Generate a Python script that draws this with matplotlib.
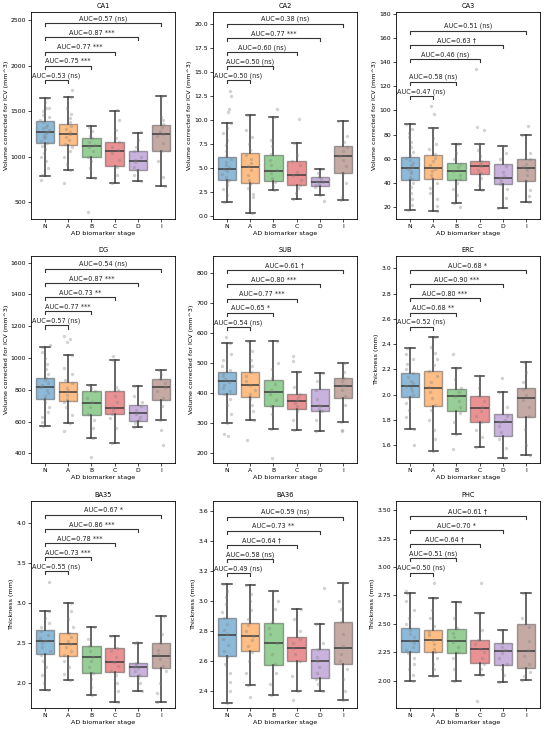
import numpy as np
import matplotlib
matplotlib.use("Agg")
import matplotlib.pyplot as plt

# groups on the x axis
stages = ["N", "A", "B", "C", "D", "I"]
colors = ["#1f77b4", "#ff7f0e", "#2ca02c", "#d62728", "#9467bd", "#8c564b"]

vol_label = "Volume corrected for ICV (mm^3)"
thick_label = "Thickness (mm)"

# box summaries per stage: [whisker low, q1, median, q3, whisker high]
stats_ca1 = [[783, 1151, 1265, 1389, 1647], [853, 1132, 1250, 1361, 1654], [765, 1000, 1121, 1202, 1331],
             [710, 897, 1063, 1165, 1504], [735, 853, 956, 1066, 1261], [672, 1058, 1250, 1342, 1662]]
stats_ca2 = [[1.46, 3.79, 4.97, 6.2, 9.77], [0.38, 3.44, 5.18, 6.6, 10.57], [2.75, 3.65, 4.77, 6.43, 10.33],
             [1.8, 3.3, 4.35, 5.8, 7.65], [2.23, 3.16, 3.62, 4.14, 4.94], [1.74, 4.52, 6.26, 7.37, 9.91]]
stats_ca3 = [[18, 42.9, 52.6, 61.7, 89], [17, 43.6, 52.3, 63.4, 85.7], [23.6, 42.3, 50, 56.2, 72.3],
             [34.5, 47.8, 53.7, 58.4, 72], [19.2, 39.5, 44.2, 55.4, 70.8], [24.7, 42, 52.6, 60, 79.6]]
stats_dg = [[569, 740, 818, 873, 1067], [588, 728, 787, 850, 1020], [498, 643, 718, 790, 833],
            [467, 646, 686, 793, 987], [566, 604, 655, 706, 825], [610, 738, 816, 866, 926]]
stats_sub = [[301, 396, 441, 470, 566], [310, 385, 427, 468, 574], [280, 358, 404, 442, 572],
             [278, 345, 373, 397, 468], [272, 340, 357, 412, 467], [303, 384, 424, 450, 500]]
stats_erc = [[1.73, 1.979, 2.066, 2.17, 2.37], [1.55, 1.91, 2.055, 2.19, 2.455], [1.685, 1.87, 1.985, 2.04, 2.21],
             [1.585, 1.785, 1.89, 1.99, 2.15], [1.5, 1.675, 1.785, 1.845, 2.02], [1.52, 1.825, 1.975, 2.055, 2.26]]
stats_ba35 = [[1.91, 2.36, 2.53, 2.67, 2.905], [2.04, 2.34, 2.49, 2.63, 3.01], [1.855, 2.13, 2.33, 2.47, 2.7],
              [1.77, 2.135, 2.265, 2.44, 2.59], [1.9, 2.09, 2.2, 2.25, 2.5], [1.76, 2.19, 2.34, 2.5, 2.84]]
stats_ba36 = [[2.32, 2.634, 2.774, 2.89, 3.117], [2.44, 2.67, 2.77, 2.857, 3.11], [2.375, 2.577, 2.72, 2.855, 3.065],
              [2.4, 2.6, 2.69, 2.76, 2.95], [2.4, 2.49, 2.6, 2.685, 2.85], [2.345, 2.58, 2.69, 2.86, 3.12]]
stats_phc = [[1.995, 2.255, 2.35, 2.46, 2.77], [2.045, 2.255, 2.36, 2.445, 2.73], [2.0, 2.24, 2.345, 2.455, 2.69],
             [2.05, 2.155, 2.28, 2.355, 2.595], [1.99, 2.135, 2.26, 2.33, 2.445], [2.01, 2.11, 2.265, 2.495, 2.77]]

# individual subjects (read approximately off the strip points)
pts_ca1 = [[740, 800, 870, 950, 1000, 1040, 1080, 1120, 1150, 1170, 1200, 1220, 1240, 1260, 1270, 1290, 1310,
            1330, 1350, 1380, 1400, 1430, 1460, 1500, 1530, 1540, 1600, 1650],
           [710, 855, 920, 1000, 1060, 1100, 1140, 1180, 1220, 1250, 1270, 1300, 1340, 1380, 1420, 1470, 1530, 1660, 1730],
           [390, 765, 870, 950, 1000, 1060, 1100, 1130, 1160, 1200, 1230, 1280, 1330],
           [710, 800, 880, 900, 960, 1040, 1070, 1100, 1160, 1200, 1290, 1400, 1510],
           [735, 800, 850, 880, 940, 960, 1000, 1060, 1100, 1180, 1265],
           [672, 780, 950, 1060, 1150, 1230, 1250, 1280, 1330, 1360, 1400, 1440, 1662]]
pts_ca2 = [[1.46, 2.2, 2.8, 3.3, 3.6, 3.8, 4.1, 4.4, 4.7, 4.9, 5.1, 5.4, 5.7, 6.0, 6.3, 6.8, 7.4, 8.0, 8.7, 9.2,
            9.77, 10.9, 11.2, 12.5, 13.1],
           [0.38, 2.0, 2.3, 2.9, 3.4, 3.8, 4.3, 4.8, 5.2, 5.6, 6.0, 6.4, 6.9, 7.5, 8.3, 9.0, 10.57],
           [2.75, 3.2, 3.6, 4.0, 4.5, 4.8, 5.3, 5.9, 6.5, 7.3, 8.0, 10.33, 11.2],
           [1.8, 2.4, 3.0, 3.3, 3.8, 4.3, 4.6, 5.3, 5.8, 6.4, 7.65, 10.1],
           [1.6, 2.23, 3.1, 3.3, 3.5, 3.6, 3.7, 3.9, 4.1, 4.5, 4.94],
           [1.74, 2.0, 3.5, 4.5, 5.2, 5.9, 6.3, 6.8, 7.2, 7.7, 8.4, 9.91]]
pts_ca3 = [[18, 22, 27, 32, 37, 40, 43, 45, 48, 50, 52, 53, 55, 57, 59, 61, 63, 66, 70, 74, 78, 81, 85, 89],
           [17, 21, 27, 32, 36, 40, 44, 47, 50, 52, 55, 58, 61, 64, 68, 72, 77, 85.7, 97, 103.5],
           [20, 23.6, 30, 35, 40, 43, 47, 50, 53, 56, 60, 65, 72.3],
           [34.5, 38, 44, 48, 51, 54, 56, 58, 62, 67, 72, 84, 86, 134],
           [19.2, 28, 35, 39, 42, 44, 46, 49, 54, 60, 65, 70.8],
           [24.7, 29, 34, 42, 47, 51, 53, 56, 60, 65, 79.6, 87]]
pts_dg = [[569, 600, 630, 660, 690, 720, 740, 760, 780, 800, 815, 830, 845, 860, 875, 900, 930, 960, 1000, 1040, 1067, 1080],
          [540, 588, 640, 690, 720, 740, 770, 790, 810, 840, 860, 900, 940, 1020, 1100, 1120, 1140],
          [378, 498, 560, 610, 650, 690, 720, 750, 790, 810, 833],
          [467, 560, 620, 650, 670, 690, 720, 760, 800, 820, 987, 1015],
          [566, 590, 610, 630, 650, 670, 700, 720, 760, 825],
          [455, 545, 610, 700, 750, 790, 820, 840, 870, 900, 926]]
pts_sub = [[258, 265, 301, 330, 360, 380, 395, 405, 415, 425, 435, 445, 455, 465, 475, 490, 510, 530, 566, 585],
           [245, 310, 340, 360, 380, 395, 410, 425, 440, 455, 470, 490, 510, 540, 574],
           [185, 280, 330, 355, 375, 395, 410, 430, 450, 480, 500, 572],
           [278, 310, 340, 355, 365, 375, 385, 395, 420, 468, 505, 523],
           [272, 310, 340, 345, 355, 360, 380, 410, 440, 467],
           [272, 277, 303, 360, 390, 410, 425, 440, 450, 470, 500]]
pts_erc = [[1.6, 1.73, 1.82, 1.88, 1.93, 1.97, 2.0, 2.03, 2.05, 2.07, 2.09, 2.11, 2.14, 2.17, 2.2, 2.24, 2.28, 2.32, 2.37],
           [1.55, 1.65, 1.72, 1.8, 1.88, 1.92, 1.97, 2.02, 2.06, 2.1, 2.15, 2.19, 2.23, 2.28, 2.33, 2.38, 2.455],
           [1.57, 1.685, 1.78, 1.85, 1.9, 1.95, 1.99, 2.02, 2.05, 2.12, 2.21, 2.32],
           [1.585, 1.66, 1.72, 1.78, 1.83, 1.87, 1.9, 1.95, 1.99, 2.05, 2.15],
           [1.5, 1.58, 1.65, 1.7, 1.75, 1.78, 1.8, 1.83, 1.9, 2.02, 2.13],
           [1.52, 1.6, 1.73, 1.83, 1.9, 1.96, 2.0, 2.04, 2.1, 2.18, 2.26]]
pts_ba35 = [[1.91, 2.0, 2.1, 2.2, 2.28, 2.35, 2.4, 2.45, 2.5, 2.53, 2.57, 2.6, 2.65, 2.7, 2.75, 2.82, 2.905, 3.27],
            [2.04, 2.12, 2.2, 2.28, 2.35, 2.4, 2.45, 2.49, 2.53, 2.58, 2.63, 2.7, 2.8, 2.9, 3.01],
            [1.855, 1.95, 2.05, 2.13, 2.2, 2.28, 2.33, 2.4, 2.47, 2.55, 2.7],
            [1.77, 1.9, 2.0, 2.1, 2.15, 2.22, 2.27, 2.33, 2.4, 2.44, 2.59],
            [1.9, 2.0, 2.07, 2.1, 2.15, 2.19, 2.2, 2.23, 2.25, 2.5, 2.52],
            [1.76, 1.88, 2.0, 2.15, 2.22, 2.3, 2.36, 2.42, 2.5, 2.62, 2.84]]
pts_ba36 = [[2.32, 2.4, 2.46, 2.52, 2.58, 2.63, 2.67, 2.71, 2.75, 2.78, 2.81, 2.85, 2.89, 2.93, 2.98, 3.03, 3.07, 3.117],
            [2.36, 2.44, 2.52, 2.6, 2.66, 2.7, 2.74, 2.77, 2.8, 2.84, 2.88, 2.94, 3.0, 3.05, 3.11],
            [2.375, 2.45, 2.52, 2.58, 2.65, 2.72, 2.78, 2.82, 2.86, 2.95, 3.0, 3.065],
            [2.34, 2.4, 2.5, 2.6, 2.65, 2.69, 2.72, 2.75, 2.8, 2.88, 2.95],
            [2.4, 2.45, 2.48, 2.52, 2.56, 2.6, 2.63, 2.68, 2.72, 2.85, 3.085],
            [2.345, 2.4, 2.48, 2.55, 2.6, 2.65, 2.7, 2.78, 2.86, 2.95, 3.0, 3.12]]
pts_phc = [[1.995, 2.05, 2.1, 2.15, 2.2, 2.24, 2.27, 2.3, 2.33, 2.35, 2.38, 2.41, 2.45, 2.5, 2.55, 2.62, 2.7, 2.77, 2.79],
           [2.045, 2.1, 2.15, 2.2, 2.25, 2.28, 2.32, 2.36, 2.4, 2.43, 2.48, 2.55, 2.62, 2.73, 2.86],
           [2.0, 2.1, 2.2, 2.25, 2.3, 2.34, 2.38, 2.42, 2.46, 2.55, 2.69],
           [1.82, 2.05, 2.1, 2.15, 2.2, 2.25, 2.28, 2.32, 2.36, 2.45, 2.595, 2.86],
           [1.99, 2.05, 2.1, 2.15, 2.2, 2.24, 2.27, 2.3, 2.33, 2.445],
           [2.01, 2.04, 2.08, 2.15, 2.22, 2.27, 2.35, 2.47, 2.55, 2.77]]

# AUC of N vs A, B, C, D, I
auc_ca1 = ["0.53 (ns)", "0.75 ***", "0.77 ***", "0.87 ***", "0.57 (ns)"]
auc_ca2 = ["0.50 (ns)", "0.50 (ns)", "0.60 (ns)", "0.77 ***", "0.38 (ns)"]
auc_ca3 = ["0.47 (ns)", "0.58 (ns)", "0.46 (ns)", "0.63 \u2020", "0.51 (ns)"]
auc_dg = ["0.57 (ns)", "0.77 ***", "0.73 **", "0.87 ***", "0.54 (ns)"]
auc_sub = ["0.54 (ns)", "0.65 *", "0.77 ***", "0.80 ***", "0.61 \u2020"]
auc_erc = ["0.52 (ns)", "0.68 **", "0.80 ***", "0.90 ***", "0.68 *"]
auc_ba35 = ["0.55 (ns)", "0.73 ***", "0.78 ***", "0.86 ***", "0.67 *"]
auc_ba36 = ["0.49 (ns)", "0.58 (ns)", "0.64 \u2020", "0.73 **", "0.59 (ns)"]
auc_phc = ["0.50 (ns)", "0.51 (ns)", "0.64 \u2020", "0.70 *", "0.61 \u2020"]

# y axis range of each panel
ylim_ca1 = (312, 2592)
ylim_ca2 = (-0.28, 21.3)
ylim_ca3 = (10.3, 181.4)
ylim_dg = (339, 1642)
ylim_sub = (167, 855)
ylim_erc = (1.458, 3.097)
ylim_ba35 = (1.69, 4.28)
ylim_ba36 = (2.29, 3.666)
ylim_phc = (1.76, 3.58)

panels = [
    ("CA1", stats_ca1, pts_ca1, auc_ca1, ylim_ca1, vol_label),
    ("CA2", stats_ca2, pts_ca2, auc_ca2, ylim_ca2, vol_label),
    ("CA3", stats_ca3, pts_ca3, auc_ca3, ylim_ca3, vol_label),
    ("DG", stats_dg, pts_dg, auc_dg, ylim_dg, vol_label),
    ("SUB", stats_sub, pts_sub, auc_sub, ylim_sub, vol_label),
    ("ERC", stats_erc, pts_erc, auc_erc, ylim_erc, thick_label),
    ("BA35", stats_ba35, pts_ba35, auc_ba35, ylim_ba35, thick_label),
    ("BA36", stats_ba36, pts_ba36, auc_ba36, ylim_ba36, thick_label),
    ("PHC", stats_phc, pts_phc, auc_phc, ylim_phc, thick_label),
]

W, H = 546, 730
fig = plt.figure(figsize=(W / 100, H / 100), dpi=100)

col_left = [31, 213, 396]
col_w = 144
row_top = [12, 256, 501]
row_h = 207

rng = np.random.default_rng(3)  # only for horizontal jitter of the dots
dark = "#3d3d3d"

for k, (name, stats, pts, aucs, ylim, ylabel) in enumerate(panels):
    r, c = divmod(k, 3)
    ax = fig.add_axes([col_left[c] / W, 1 - (row_top[r] + row_h) / H, col_w / W, row_h / H])

    bxp_stats = []
    for lab, s in zip(stages, stats):
        bxp_stats.append({"label": lab, "whislo": s[0], "q1": s[1], "med": s[2], "q3": s[3], "whishi": s[4]})
    pos = np.arange(len(stages))
    bp = ax.bxp(bxp_stats, positions=pos, widths=0.8, patch_artist=True, showfliers=False,
                boxprops=dict(linewidth=1.0), whiskerprops=dict(color=dark, linewidth=1.1),
                capprops=dict(color=dark, linewidth=1.1), medianprops=dict(color=dark, linewidth=1.1),
                capwidths=0.4)
    for patch, col in zip(bp["boxes"], colors):
        rgb = matplotlib.colors.to_rgb(col)
        patch.set_facecolor(rgb + (0.5,))
        patch.set_edgecolor((0.25, 0.25, 0.25, 0.45))

    # strip of subjects
    for i, vals in enumerate(pts):
        jit = rng.uniform(-0.2, 0.2, len(vals))
        ax.scatter(pos[i] + jit, vals, s=6, color="gray", alpha=0.35, linewidths=0, zorder=4)

    ax.set_ylim(*ylim)
    ax.set_xlim(-0.6, 5.6)
    span = ylim[1] - ylim[0]
    pad, step, tick = 0.05 * span, 0.0685 * span, 0.015 * span

    # brackets N vs each stage
    level = None
    for j, txt in enumerate(aucs, start=1):
        top = max(max(max(p) for p in pts[:j + 1]), max(s[4] for s in stats[:j + 1]))
        y = top + pad
        if level is not None:
            y = max(y, level + step)
        level = y
        ax.plot([0, 0, j, j], [y - tick, y, y, y - tick], color="#333333", lw=0.8, zorder=5)
        ax.text(j / 2, y + 0.006 * span, "AUC=" + txt, ha="center", va="bottom", fontsize=4.7, color="#222222")

    ax.set_xticks(pos)
    ax.set_xticklabels(stages)
    ax.tick_params(labelsize=4.4, length=2, width=0.5, pad=1.5)
    for sp in ax.spines.values():
        sp.set_linewidth(0.6)
    ax.set_title(name, fontsize=4.8, pad=3)
    ax.set_xlabel("AD biomarker stage", fontsize=4.6, labelpad=1.5)
    ax.set_ylabel(ylabel, fontsize=4.6, labelpad=1.5)

fig.savefig("out.png", dpi=100)
